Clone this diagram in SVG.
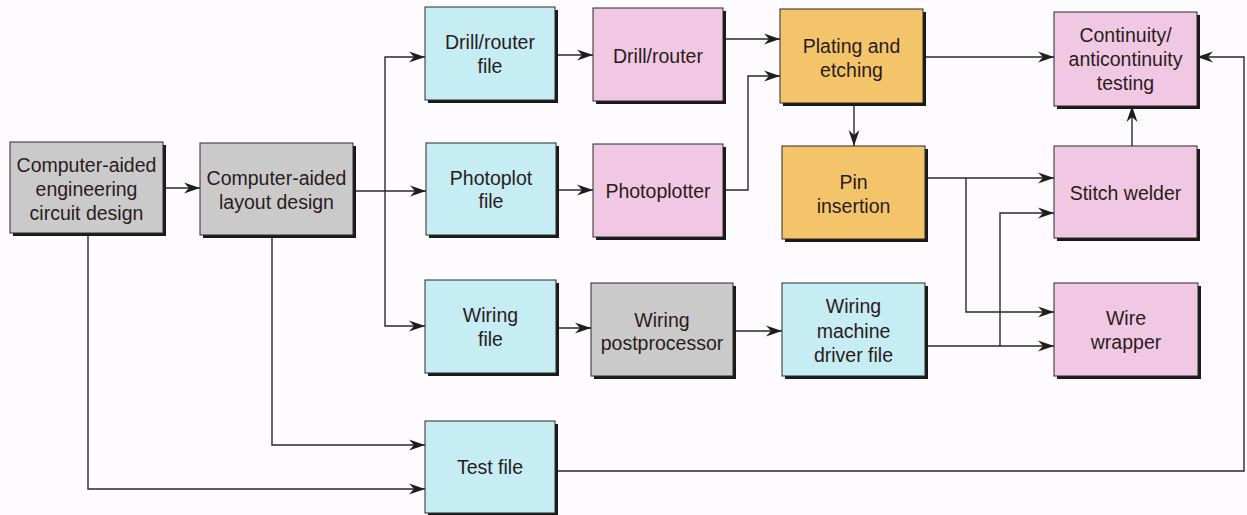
<svg xmlns="http://www.w3.org/2000/svg" width="1247" height="515" viewBox="0 0 1247 515">
<defs>
<marker id="ah" markerUnits="userSpaceOnUse" markerWidth="18" markerHeight="12" refX="16" refY="5.5" orient="auto" overflow="visible">
<path d="M0,0 L16,5.5 L0,11 L5,5.5 Z" fill="#1e1e1e"/>
</marker>
</defs>
<style>
.sh{fill:#1a1a1a}
.bx{stroke:#2a2a2a;stroke-width:1}
.cy{fill:#c6ecf4}
.pk{fill:#f1c8e3}
.or{fill:#f4c46a}
.gy{fill:#cbcaca}
text{font-family:"Liberation Sans",Arial,sans-serif;font-size:19.5px;fill:#2a1c1c;text-anchor:middle}
.c{fill:none;stroke:#2a2a2a;stroke-width:1.4}
</style>
<rect width="1247" height="515" fill="#fdfbfd"/>
<g id="connectors">
<path class="c" d="M163,188 H200" marker-end="url(#ah)"/>
<path class="c" d="M353,191 H426" marker-end="url(#ah)"/>
<path class="c" d="M385,191 V57 H425" marker-end="url(#ah)"/>
<path class="c" d="M385,191 V326 H425" marker-end="url(#ah)"/>
<path class="c" d="M555,55 H593" marker-end="url(#ah)"/>
<path class="c" d="M556,190 H593" marker-end="url(#ah)"/>
<path class="c" d="M723,39 H780" marker-end="url(#ah)"/>
<path class="c" d="M723,190 H748 V76 H780" marker-end="url(#ah)"/>
<path class="c" d="M854,103 V146" marker-end="url(#ah)"/>
<path class="c" d="M923,57 H1054" marker-end="url(#ah)"/>
<path class="c" d="M1132,146 V106" marker-end="url(#ah)"/>
<path class="c" d="M925,178 H1054" marker-end="url(#ah)"/>
<path class="c" d="M966,178 V312 H1054" marker-end="url(#ah)"/>
<path class="c" d="M925,346 H1054" marker-end="url(#ah)"/>
<path class="c" d="M1000,346 V213 H1054" marker-end="url(#ah)"/>
<path class="c" d="M556,328 H591" marker-end="url(#ah)"/>
<path class="c" d="M733,331 H782" marker-end="url(#ah)"/>
<path class="c" d="M88,233 V489 H425" marker-end="url(#ah)"/>
<path class="c" d="M272,235 V445 H425" marker-end="url(#ah)"/>
<path class="c" d="M555,471 H1244 V57 H1197" marker-end="url(#ah)"/>
</g>
<g id="cae">
<rect class="sh" x="13" y="145" width="153" height="91"/>
<rect class="bx gy" x="10" y="142" width="153" height="91"/>
<text x="86.5" y="172">Computer-aided</text>
<text x="86.5" y="196">engineering</text>
<text x="86.5" y="220">circuit design</text>
</g>
<g id="cal">
<rect class="sh" x="203" y="146" width="153" height="92"/>
<rect class="bx gy" x="200" y="143" width="153" height="92"/>
<text x="276.5" y="185">Computer-aided</text>
<text x="276.5" y="209">layout design</text>
</g>
<g id="drillfile">
<rect class="sh" x="428" y="10" width="130" height="93"/>
<rect class="bx cy" x="425" y="7" width="130" height="93"/>
<text x="490" y="49">Drill/router</text>
<text x="490" y="73">file</text>
</g>
<g id="drill">
<rect class="sh" x="596" y="11" width="130" height="93"/>
<rect class="bx pk" x="593" y="8" width="130" height="93"/>
<text x="658" y="63">Drill/router</text>
</g>
<g id="photofile">
<rect class="sh" x="429" y="146" width="130" height="92"/>
<rect class="bx cy" x="426" y="143" width="130" height="92"/>
<text x="491" y="185">Photoplot</text>
<text x="491" y="208">file</text>
</g>
<g id="photoplotter">
<rect class="sh" x="596" y="147" width="130" height="93"/>
<rect class="bx pk" x="593" y="144" width="130" height="93"/>
<text x="658" y="198">Photoplotter</text>
</g>
<g id="plating">
<rect class="sh" x="783" y="12" width="143" height="94"/>
<rect class="bx or" x="780" y="9" width="143" height="94"/>
<text x="851.5" y="53">Plating and</text>
<text x="851.5" y="77">etching</text>
</g>
<g id="pin">
<rect class="sh" x="785" y="149" width="143" height="93"/>
<rect class="bx or" x="782" y="146" width="143" height="93"/>
<text x="853.5" y="189">Pin</text>
<text x="853.5" y="213">insertion</text>
</g>
<g id="continuity">
<rect class="sh" x="1057" y="15" width="143" height="94"/>
<rect class="bx pk" x="1054" y="12" width="143" height="94"/>
<text x="1125.5" y="42">Continuity/</text>
<text x="1125.5" y="66">anticontinuity</text>
<text x="1125.5" y="90">testing</text>
</g>
<g id="stitch">
<rect class="sh" x="1057" y="149" width="143" height="92"/>
<rect class="bx pk" x="1054" y="146" width="143" height="92"/>
<text x="1125.5" y="200">Stitch welder</text>
</g>
<g id="wrapper">
<rect class="sh" x="1057" y="286" width="144" height="93"/>
<rect class="bx pk" x="1054" y="283" width="144" height="93"/>
<text x="1126" y="325">Wire</text>
<text x="1126" y="349">wrapper</text>
</g>
<g id="wiringfile">
<rect class="sh" x="428" y="283" width="131" height="93"/>
<rect class="bx cy" x="425" y="280" width="131" height="93"/>
<text x="490.5" y="322">Wiring</text>
<text x="490.5" y="346">file</text>
</g>
<g id="postproc">
<rect class="sh" x="594" y="286" width="142" height="93"/>
<rect class="bx gy" x="591" y="283" width="142" height="93"/>
<text x="662" y="327">Wiring</text>
<text x="662" y="350">postprocessor</text>
</g>
<g id="driverfile">
<rect class="sh" x="785" y="286" width="143" height="93"/>
<rect class="bx cy" x="782" y="283" width="143" height="93"/>
<text x="853.5" y="313">Wiring</text>
<text x="853.5" y="338">machine</text>
<text x="853.5" y="362">driver file</text>
</g>
<g id="testfile">
<rect class="sh" x="428" y="424" width="130" height="92"/>
<rect class="bx cy" x="425" y="421" width="130" height="92"/>
<text x="490" y="474">Test file</text>
</g>
</svg>
